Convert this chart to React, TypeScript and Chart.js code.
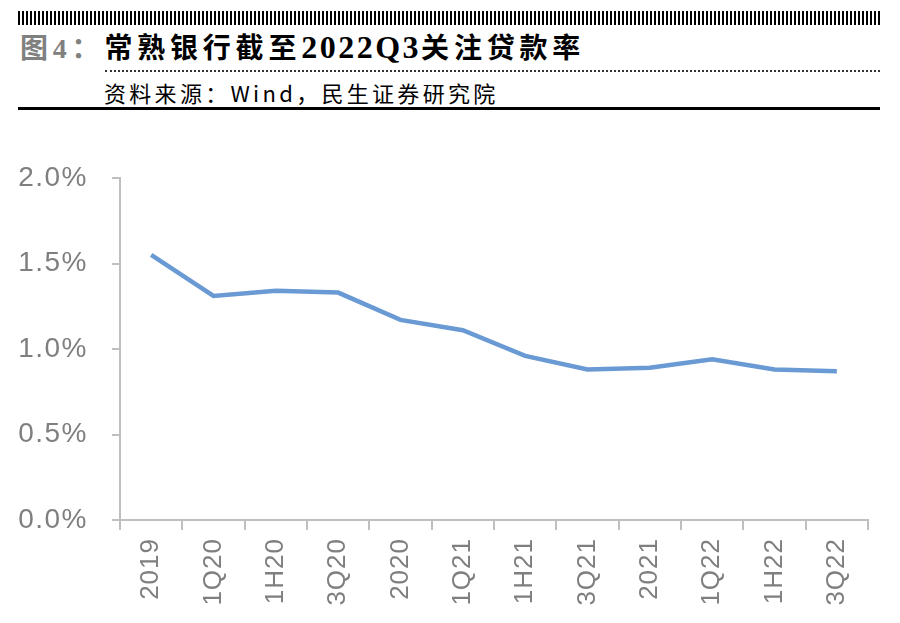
import React, { useEffect, useRef } from "react";
import { Chart, registerables } from "chart.js";

Chart.register(...registerables);

const categories = ["2019", "1Q20", "1H20", "3Q20", "2020", "1Q21", "1H21", "3Q21", "2021", "1Q22", "1H22", "3Q22"];
const ratioValues = [1.55, 1.31, 1.34, 1.33, 1.17, 1.11, 0.96, 0.88, 0.89, 0.94, 0.88, 0.87];
const yTicks = [0, 0.5, 1.0, 1.5, 2.0];

function withSpacing(scale: any, spacing: string) {
  const orig = scale.drawLabels.bind(scale);
  scale.drawLabels = (area: any) => {
    const ctx = scale.ctx as any;
    ctx.save();
    ctx.letterSpacing = spacing;
    orig(area);
    ctx.restore();
  };
}

export default function App() {
  const ref = useRef<HTMLCanvasElement | null>(null);

  useEffect(() => {
    document.body.style.margin = "0";
    if (!ref.current) return;
    const chart = new Chart(ref.current, {
      type: "line",
      data: {
        labels: categories,
        datasets: [
          {
            data: ratioValues,
            borderColor: "#6a9ad3",
            borderWidth: 4.5,
            pointRadius: 0,
            tension: 0,
            fill: false,
          },
        ],
      },
      options: {
        animation: false,
        responsive: false,
        maintainAspectRatio: false,
        layout: { padding: { top: 178 - 130, right: 32, bottom: 0, left: 0 } },
        plugins: { legend: { display: false }, tooltip: { enabled: false } },
        scales: {
          x: {
            type: "category",
            offset: true,
            grid: {
              display: true,
              drawOnChartArea: false,
              drawTicks: true,
              tickLength: 10,
              color: "#bfbfbf",
              lineWidth: 2,
              offset: true,
            },
            border: { display: true, color: "#bfbfbf", width: 2 },
            ticks: {
              minRotation: 90,
              maxRotation: 90,
              autoSkip: false,
              padding: 8,
              color: "#7f7f7f",
              font: { family: "'Liberation Sans', Arial, sans-serif", size: 26 },
            },
            afterFit: (s: any) => {
              s.height = 623 - 520;
            },
          },
          y: {
            min: 0,
            max: 2.0,
            afterBuildTicks: (s: any) => {
              s.ticks = yTicks.map((v) => ({ value: v }));
            },
            grid: {
              display: true,
              drawOnChartArea: false,
              drawTicks: true,
              tickLength: 8,
              color: "#bfbfbf",
              lineWidth: 2,
            },
            border: { display: true, color: "#bfbfbf", width: 2 },
            ticks: {
              padding: 24,
              color: "#7f7f7f",
              font: { family: "'Liberation Sans', Arial, sans-serif", size: 28 },
              callback: (v: any) => Number(v).toFixed(1) + "%",
            },
            afterFit: (s: any) => {
              s.width = 120;
            },
          },
        },
      },
    });
    withSpacing(chart.scales.x, "1px");
    withSpacing(chart.scales.y, "1.5px");
    chart.draw();
    return () => chart.destroy();
  }, []);

  return (
    <div style={{ position: "relative", width: 900, height: 623, background: "#fff", overflow: "hidden" }}>
      <div
        style={{
          position: "absolute",
          left: 18,
          top: 11,
          width: 862,
          height: 14,
          background: "repeating-linear-gradient(90deg, #000 0px, #000 2px, #fff 2px, #fff 4px)",
        }}
      />
      <div
        style={{
          position: "absolute",
          left: 20,
          top: 27,
          fontFamily: "'Liberation Serif', 'Noto Sans CJK SC', serif",
          fontWeight: 700,
          fontSize: 28,
          lineHeight: "40px",
          whiteSpace: "nowrap",
          letterSpacing: 4.8,
        }}
      >
        <span style={{ color: "#808080" }}>图4：</span>
        <span style={{ color: "#000" }}>常熟银行截至</span>
        <span style={{ color: "#000", fontSize: 32, letterSpacing: 2.5 }}>2022Q3</span>
        <span style={{ color: "#000" }}>关注贷款率</span>
      </div>
      <div
        style={{
          position: "absolute",
          left: 105,
          top: 70,
          width: 775,
          height: 0,
          borderTop: "2px dotted #333",
        }}
      />
      <div
        style={{
          position: "absolute",
          left: 104,
          top: 77,
          fontFamily: "'Noto Sans CJK SC', sans-serif",
          fontWeight: 400,
          fontSize: 22,
          lineHeight: "30px",
          color: "#000",
          whiteSpace: "nowrap",
          letterSpacing: 3.3,
        }}
      >
        资料来源：Wind，民生证券研究院
      </div>
      <div style={{ position: "absolute", left: 18, top: 107, width: 862, height: 3, background: "#000" }} />
      <canvas ref={ref} width={900} height={493} style={{ position: "absolute", left: 0, top: 130, display: "block" }} />
    </div>
  );
}
